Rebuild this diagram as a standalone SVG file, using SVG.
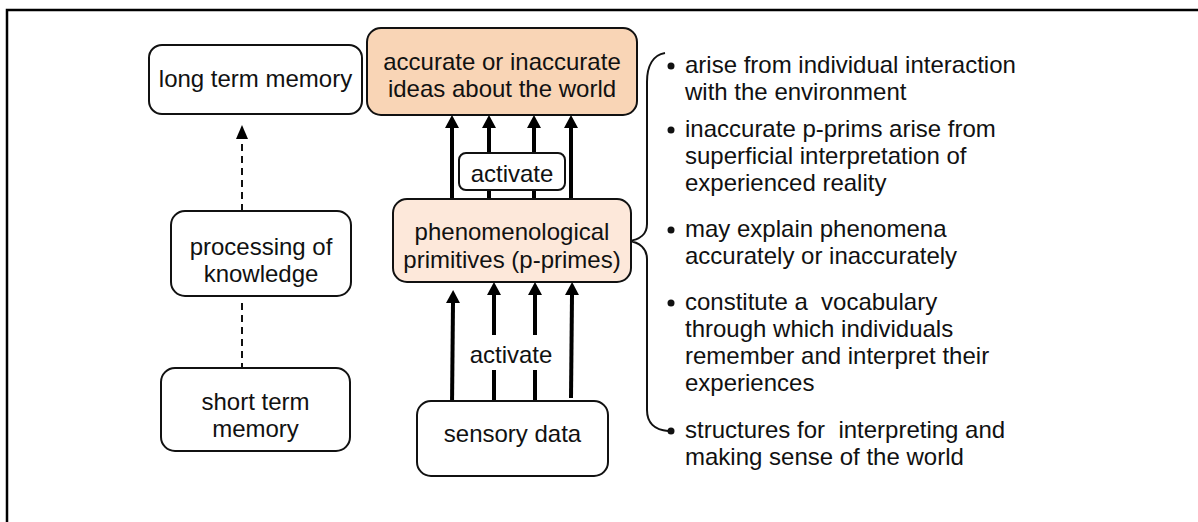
<svg xmlns="http://www.w3.org/2000/svg" width="1198" height="522" viewBox="0 0 1198 522">
  <style>
    text { font-family: "Liberation Sans", Arial, sans-serif; font-size: 24px; fill: #111; }
    .mid { text-anchor: middle; }
    .box { stroke: #111; stroke-width: 2; }
    .plain { fill: #fff; }
    .ideas { fill: #F9D5B6; }
    .prims { fill: #FDE8DA; }
    .arrow { stroke: #000; stroke-width: 4; fill: none; }
    .dash { stroke: #111; stroke-width: 2; stroke-dasharray: 7 5; fill: none; }
    .brace { stroke: #111; stroke-width: 2; fill: none; }
  </style>
  <defs>
    <marker id="head" viewBox="0 0 13 14" refX="0" refY="7" markerWidth="13" markerHeight="14" markerUnits="userSpaceOnUse" orient="auto">
      <path d="M0,0 L13,7 L0,14 z" fill="#000"/>
    </marker>
    <marker id="headSmall" viewBox="0 0 14 12" refX="0" refY="6" markerWidth="14" markerHeight="12" markerUnits="userSpaceOnUse" orient="auto">
      <path d="M0,0 L14,6 L0,12 z" fill="#000"/>
    </marker>
  </defs>

  <rect width="1198" height="522" fill="#fff"/>
  <!-- outer frame -->
  <rect x="7" y="10" width="1400" height="700" fill="none" stroke="#000" stroke-width="2.5"/>

  <!-- connectors -->
  <g id="connectors">
    <!-- memory chain -->
    <line class="dash" x1="242" y1="211" x2="242" y2="139" marker-end="url(#headSmall)"/>
    <line class="dash" x1="242" y1="303" x2="242" y2="367"/>
    <!-- p-prims to ideas -->
    <line class="arrow" x1="452" y1="200" x2="452" y2="128" marker-end="url(#head)"/>
    <line class="arrow" x1="489" y1="200" x2="489" y2="128" marker-end="url(#head)"/>
    <line class="arrow" x1="534" y1="200" x2="534" y2="128" marker-end="url(#head)"/>
    <line class="arrow" x1="571" y1="200" x2="571" y2="128" marker-end="url(#head)"/>
    <!-- sensory data to p-prims -->
    <line class="arrow" x1="452" y1="406" x2="453" y2="303" marker-end="url(#head)"/>
    <polyline class="arrow" points="494,400 494,370"/>
    <line class="arrow" x1="494" y1="335" x2="494" y2="295" marker-end="url(#head)"/>
    <polyline class="arrow" points="535,400 535,370"/>
    <line class="arrow" x1="535" y1="335" x2="535" y2="295" marker-end="url(#head)"/>
    <line class="arrow" x1="571" y1="398" x2="572" y2="295" marker-end="url(#head)"/>
    <!-- brace linking p-prims to their properties -->
    <path class="brace" d="M665,53 C653,55 647,66 647,82 L647,224 C647,234 640,240 628,241 C640,242 647,249 647,259 L647,410 C647,423 655,430 668,431"/>
  </g>

  <g id="long-term-memory">
    <rect class="box plain" x="149" y="45" width="213" height="69" rx="13"/>
    <text class="mid" x="255.5" y="87">long term memory</text>
  </g>

  <g id="processing">
    <rect class="box plain" x="171" y="211" width="180" height="85" rx="14"/>
    <text class="mid" x="261" y="255">processing of</text>
    <text class="mid" x="261" y="282">knowledge</text>
  </g>

  <g id="short-term-memory">
    <rect class="box plain" x="161" y="368" width="189" height="83" rx="14"/>
    <text class="mid" x="255.5" y="410">short term</text>
    <text class="mid" x="255.5" y="437">memory</text>
  </g>

  <g id="ideas">
    <rect class="box ideas" x="367" y="28" width="270" height="87" rx="14"/>
    <text class="mid" x="502" y="70">accurate or inaccurate</text>
    <text class="mid" x="502" y="97">ideas about the world</text>
  </g>

  <g id="activate-upper">
    <rect class="box plain" x="459" y="153" width="106" height="37" rx="7"/>
    <text class="mid" x="512" y="182">activate</text>
  </g>

  <g id="p-prims">
    <rect class="box prims" x="393" y="199" width="238" height="83" rx="14"/>
    <text class="mid" x="512" y="240">phenomenological</text>
    <text class="mid" x="512" y="268">primitives (p-primes)</text>
  </g>

  <g id="activate-lower">
    <text class="mid" x="511" y="363">activate</text>
  </g>

  <g id="sensory-data">
    <rect class="box plain" x="417" y="401" width="191" height="75" rx="14"/>
    <text class="mid" x="512.5" y="442">sensory data</text>
  </g>

  <g id="properties">
    <circle cx="671" cy="66" r="3.5" fill="#111"/>
    <text x="685" y="73">arise from individual interaction</text>
    <text x="685" y="100">with the environment</text>
    <circle cx="671" cy="130" r="3.5" fill="#111"/>
    <text x="685" y="137">inaccurate p-prims arise from</text>
    <text x="685" y="164">superficial interpretation of</text>
    <text x="685" y="191">experienced reality</text>
    <circle cx="671" cy="230" r="3.5" fill="#111"/>
    <text x="685" y="237">may explain phenomena</text>
    <text x="685" y="264">accurately or inaccurately</text>
    <circle cx="671" cy="303" r="3.5" fill="#111"/>
    <text x="685" y="310" xml:space="preserve">constitute a  vocabulary</text>
    <text x="685" y="337">through which individuals</text>
    <text x="685" y="364">remember and interpret their</text>
    <text x="685" y="391">experiences</text>
    <circle cx="671" cy="431" r="3.5" fill="#111"/>
    <text x="685" y="438" xml:space="preserve">structures for  interpreting and</text>
    <text x="685" y="465">making sense of the world</text>
  </g>
</svg>
